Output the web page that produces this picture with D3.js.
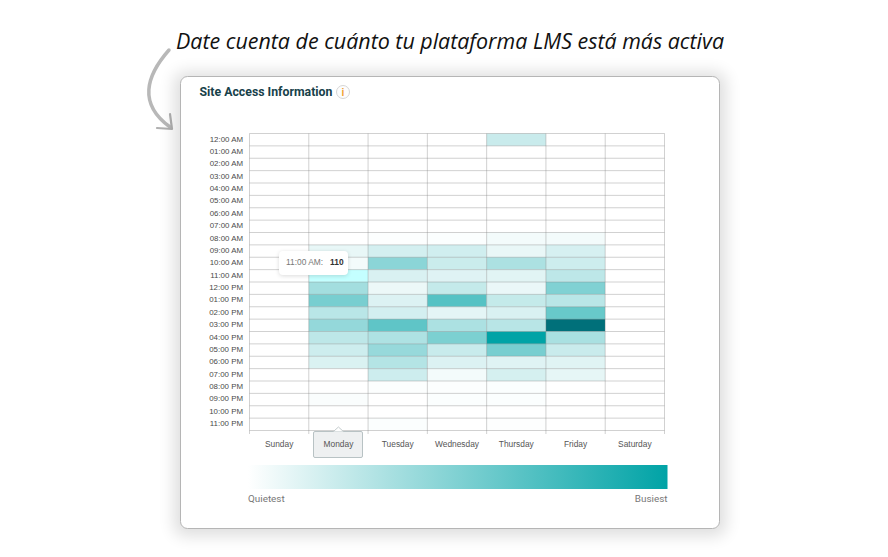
<!DOCTYPE html>
<html><head><meta charset="utf-8">
<script src="https://cdn.jsdelivr.net/npm/d3@7"></script>
<style>
html,body{margin:0;padding:0;background:#fff;}
svg{display:block;}
text{font-family:"Liberation Sans",Arial,sans-serif;}
</style></head><body>
<svg id="c" width="888" height="557"></svg>
<script>
const headline = "Date cuenta de cuánto tu plataforma LMS está más activa";
const chartTitle = "Site Access Information";
const days = ["Sunday","Monday","Tuesday","Wednesday","Thursday","Friday","Saturday"];
const hours = ["12:00 AM","01:00 AM","02:00 AM","03:00 AM","04:00 AM","05:00 AM","06:00 AM","07:00 AM","08:00 AM","09:00 AM","10:00 AM","11:00 AM","12:00 PM","01:00 PM","02:00 PM","03:00 PM","04:00 PM","05:00 PM","06:00 PM","07:00 PM","08:00 PM","09:00 PM","10:00 PM","11:00 PM"];
const sunday    = [0,0,0,0,0,0,0,0,0,0,0,0,0,0,0,0,0,0,0,0,0,0,0,0];
const monday    = [0,0,0,0,0,0,0,0,0,45,24,110,180,265,137,210,129,98,73,0,0,10,0,0];
const tuesday   = [0,0,0,0,0,0,0,0,5,86,227,75,37,69,86,314,159,204,147,98,5,0,0,8];
const wednesday = [0,0,0,0,0,0,0,0,7,92,104,63,116,333,53,163,257,108,69,24,5,8,0,0];
const thursday  = [106,0,0,0,0,0,0,0,24,43,163,59,41,116,75,139,500,265,63,82,7,8,0,4];
const friday    = [0,0,0,0,0,0,0,0,24,80,98,129,249,137,296,700,169,106,61,49,0,0,0,0];
const saturday  = [0,0,0,0,0,0,0,0,0,0,0,0,0,0,0,0,0,0,0,0,0,0,0,0];
const byDay = [sunday,monday,tuesday,wednesday,thursday,friday,saturday];
const hoveredDay = "Monday", hoveredHour = "11:00 AM";
const legendLabels = ["Quietest","Busiest"];

const svg = d3.select("#c");
const defs = svg.append("defs");
const blur = defs.append("filter").attr("id","sh").attr("x","-10%").attr("y","-10%").attr("width","120%").attr("height","120%");
blur.append("feGaussianBlur").attr("stdDeviation",8);
const tipBlur = defs.append("filter").attr("id","ts").attr("x","-20%").attr("y","-30%").attr("width","140%").attr("height","160%");
tipBlur.append("feGaussianBlur").attr("stdDeviation",2);

// headline
svg.append("text").text(headline).attr("x",176).attr("y",49)
  .attr("textLength",548).attr("lengthAdjust","spacingAndGlyphs")
  .style("font-family","'Open Sans',sans-serif").style("font-style","italic")
  .style("font-size","21px").style("font-weight",500).attr("fill","#111");

// hand-drawn arrow
svg.append("path").attr("d","M169 50 C146 76 138 104 170 127").attr("fill","none")
  .attr("stroke","#b8b8b8").attr("stroke-width",3.5).attr("stroke-linecap","round");
svg.append("path").attr("d","M157 128 L172 129 L170 114").attr("fill","none")
  .attr("stroke","#b0b0b0").attr("stroke-width",2.2).attr("stroke-linecap","round").attr("stroke-linejoin","round");

// card
svg.append("rect").attr("x",174).attr("y",72).attr("width",552).attr("height",464).attr("rx",10)
  .attr("fill","#000").attr("opacity",.13).attr("filter","url(#sh)");
svg.append("rect").attr("x",180.5).attr("y",76.5).attr("width",539).attr("height",452).attr("rx",7)
  .attr("fill","#fff").attr("stroke","#b5b5b5");

svg.append("text").text(chartTitle).attr("x",199.5).attr("y",95.5)
  .style("font-family","Roboto,sans-serif")
  .style("font-size","12.3px").style("font-weight",700).attr("fill","#17414a");
const info = svg.append("g").attr("transform","translate(343,92)");
info.append("circle").attr("r",6.5).attr("fill","#fdfdfd").attr("stroke","#d6d6d6");
info.append("text").text("i").attr("text-anchor","middle").attr("y",4)
  .style("font-size","10px").style("font-weight",700).attr("fill","#f0a030");

// scales
const x = d3.scaleBand().domain(days).range([249.5,664.5]);
const y = d3.scaleBand().domain(hours).range([133.5,430.5]);
const color = d3.scaleLinear().domain([0,500,700]).range(["#ffffff","#00a3a6","#00707a"]);

// cells
const cells = days.flatMap((d,i)=>hours.map((h,j)=>({day:d,hour:h,value:byDay[i][j]})));
svg.append("g").selectAll("rect").data(cells).join("rect")
  .attr("x",d=>x(d.day)).attr("y",d=>y(d.hour))
  .attr("width",x.bandwidth()).attr("height",y.bandwidth())
  .attr("fill",d=>(d.day===hoveredDay&&d.hour===hoveredHour)?"#c4ffff":color(d.value));

// grid
const gridG = svg.append("g").attr("stroke","#808080").attr("stroke-opacity",.36).attr("stroke-width",1);
gridG.selectAll(".h").data([...hours.map(h=>y(h)),430.5]).join("line")
  .attr("x1",249.5).attr("x2",664.5).attr("y1",d=>d).attr("y2",d=>d);
gridG.selectAll(".v").data([...days.map(d=>x(d)),664.5]).join("line")
  .attr("x1",d=>d).attr("x2",d=>d).attr("y1",133.5).attr("y2",434);

// y axis
const yAxis = svg.append("g").attr("transform","translate(243,0.3)")
  .call(d3.axisLeft(y).tickSize(0).tickPadding(0));
yAxis.select(".domain").remove();
yAxis.selectAll("text").style("font-size","7.9px").style("font-family","'Liberation Sans',sans-serif").attr("fill","#4a4a4a").attr("dy","0.2em");

// x axis selected tab
const tabX = x(hoveredDay)+x.bandwidth()/2;
svg.append("rect").attr("x",313.5).attr("y",431.5).attr("width",49).attr("height",26).attr("rx",1.5)
  .attr("fill","#eef0f1").attr("stroke","#b8c2c4");
svg.append("path").attr("d",`M${tabX-5} 431.5 L${tabX} 427 L${tabX+5} 431.5`).attr("fill","#fff").attr("stroke","#c4cccd");

// x axis
const xAxis = svg.append("g").attr("transform","translate(0,444)")
  .call(d3.axisBottom(x).tickSize(0).tickPadding(0));
xAxis.select(".domain").remove();
xAxis.selectAll("text").attr("y",0).attr("dy","0.35em").style("font-size","8.4px").style("font-family","'Liberation Sans',sans-serif").attr("fill","#555");

// tooltip
const tip = svg.append("g");
tip.append("rect").attr("x",279).attr("y",252).attr("width",69).attr("height",24).attr("rx",4)
  .attr("fill","#000").attr("opacity",.14).attr("filter","url(#ts)");
tip.append("rect").attr("x",279).attr("y",251).attr("width",69).attr("height",24).attr("rx",4).attr("fill","#fff");
const tipText = tip.append("text").attr("x",286).attr("y",265).style("font-size","8.4px");
tipText.append("tspan").text(hoveredHour+":").attr("fill","#777");
tipText.append("tspan").text(monday[hours.indexOf(hoveredHour)]).attr("dx",7).style("font-weight",700).attr("fill","#333");

// legend
const grad = defs.append("linearGradient").attr("id","lg");
color.domain().slice(0,2).forEach((v,i)=>grad.append("stop").attr("offset",i*100+"%").attr("stop-color",color(v)));
svg.append("rect").attr("x",248).attr("y",465).attr("width",419.5).attr("height",24).attr("fill","url(#lg)");
svg.append("text").text(legendLabels[0]).attr("x",248).attr("y",502).style("font-family","Roboto,sans-serif").style("font-size","9.9px").attr("fill","#777");
svg.append("text").text(legendLabels[1]).attr("x",667.5).attr("y",502).attr("text-anchor","end").style("font-family","Roboto,sans-serif").style("font-size","9.9px").attr("fill","#777");
</script>
</body></html>
